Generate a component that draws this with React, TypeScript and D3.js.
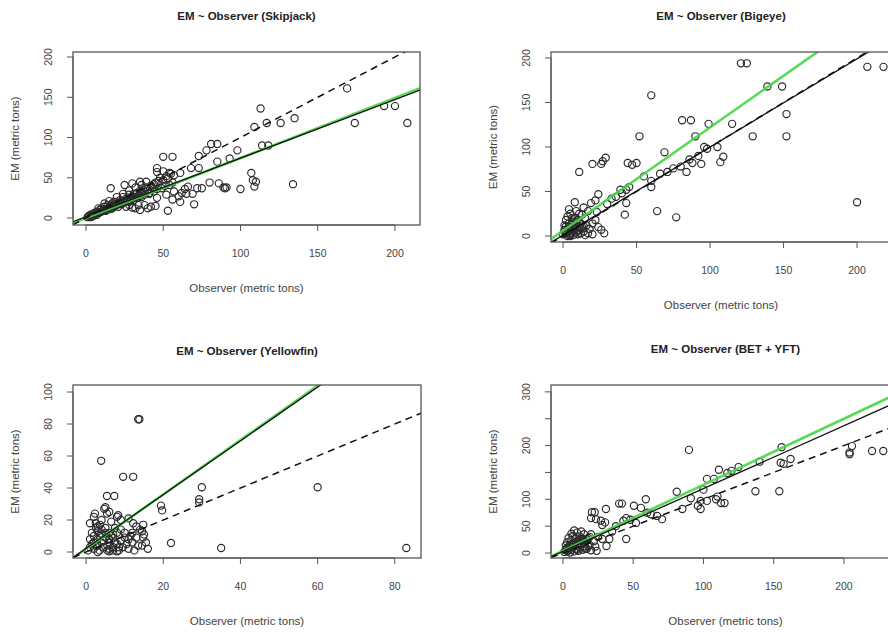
import React from "react";
import * as d3 from "d3";

// Skipjack
const skjObs = [169, 113, 135, 193, 200, 174, 208, 109, 117, 126, 114, 118, 81, 85, 98, 78, 73, 85, 93, 50, 56, 68, 73, 46, 107, 108, 110, 109, 100, 91, 86, 80, 134, 72, 75, 65, 69, 70, 61, 56, 52, 53, 46, 44, 16, 25, 30, 35, 39, 54, 50, 46, 61, 40, 35, 30, 26, 22, 18, 89, 90, 60, 57, 62, 64, 66, 42, 38, 34, 28, 45, 32,
  1, 2, 3, 3, 4, 5, 5, 6, 7, 7, 8, 9, 9, 10, 10, 11, 12, 12, 13, 14, 14, 15, 16, 16, 17, 18, 19, 19, 20, 21, 21, 22, 23, 24, 24, 25, 26, 27, 28, 28, 29, 30, 31, 32, 33, 34, 35, 36, 37, 38, 39, 40, 42, 43, 44, 45, 47, 48, 50, 52, 53, 55, 57, 20, 24, 28, 32, 36, 12, 8, 15, 31, 36, 41,
  2, 4, 6, 8, 11, 13, 15, 17, 18, 20, 22, 23, 25, 27, 29, 30, 33, 35, 38, 41, 44, 46, 49, 51, 54, 56];
const skjEm = [161, 136, 124, 139, 139, 118, 118, 113, 118, 118, 90, 90, 92, 92, 84, 84, 77, 70, 74, 76, 76, 62, 62, 62, 56, 47, 45, 39, 36, 38, 43, 44, 42, 37, 37, 30, 30, 17, 20, 23, 29, 9, 25, 36, 37, 41, 43, 45, 45, 56, 58, 57, 56, 12, 10, 13, 14, 19, 20, 38, 37, 27, 33, 31, 36, 39, 14, 16, 16, 16, 15, 12,
  1, 3, 1, 4, 2, 6, 3, 5, 8, 4, 6, 10, 7, 8, 12, 9, 11, 14, 10, 12, 16, 13, 15, 11, 18, 14, 16, 20, 17, 19, 14, 22, 18, 21, 26, 20, 24, 22, 29, 20, 25, 27, 30, 26, 31, 28, 34, 30, 35, 32, 38, 34, 40, 38, 42, 44, 46, 50, 47, 52, 49, 55, 53, 26, 30, 34, 38, 41, 18, 12, 21, 22, 26, 30,
  2, 2, 5, 7, 9, 9, 13, 12, 15, 16, 18, 17, 20, 21, 22, 24, 25, 27, 29, 31, 33, 36, 37, 40, 41, 44];

// Bigeye
const betObs = [121, 125, 207, 218, 139, 149, 60, 152, 81, 87, 99, 115, 52, 90, 129, 152, 96, 105, 109, 107, 69, 29, 27, 20, 26, 44, 50, 86, 88, 94, 84, 71, 11, 60, 60, 200, 64, 42, 77, 39, 43, 45, 43, 8, 24, 19, 23, 28, 26, 36, 55, 47, 66, 75, 80, 92, 98, 40, 33, 30, 22, 14,
  0, 1, 1, 2, 2, 3, 3, 4, 4, 5, 5, 6, 6, 7, 7, 8, 8, 9, 9, 10, 10, 11, 11, 12, 12, 13, 14, 15, 15, 16, 17, 18, 20, 20, 22, 24, 3, 5, 2, 6, 9, 13, 17, 4,
  1, 3, 4, 6, 7, 8, 10, 11, 12, 14, 5, 9];
const betEm = [194, 194, 190, 190, 168, 168, 158, 137, 130, 130, 126, 126, 112, 112, 112, 112, 100, 100, 89, 83, 94, 88, 84, 81, 81, 82, 82, 86, 82, 81, 72, 72, 72, 62, 55, 38, 28, 24, 21, 52, 52, 55, 37, 38, 47, 37, 27, 3, 7, 44, 67, 80, 70, 76, 78, 90, 98, 48, 42, 36, 40, 32,
  2, 5, 12, 3, 18, 8, 22, 1, 14, 6, 25, 3, 10, 16, 1, 8, 20, 4, 12, 2, 18, 7, 25, 14, 3, 10, 5, 20, 1, 12, 3, 8, 14, 2, 18, 10, 0, 0, 11, 20, 28, 24, 28, 30,
  7, 4, 10, 14, 9, 12, 6, 15, 9, 11, 2, 16];

// Yellowfin
const yftObs = [13.5, 13.8, 3.9, 9.6, 12.2, 30, 60, 5.4, 7.3, 19.4, 19.7, 29.3, 29.3, 2.3, 4.7, 5.4, 8, 8.3, 12.2, 14.8, 22, 35, 83, 14.5, 14.8, 14.5, 10, 11, 6, 3.6, 2.6, 8,
  0.5, 1, 1, 1.5, 2, 2, 2, 2.5, 3, 3, 3, 3.5, 4, 4, 4, 4.5, 5, 5, 5.5, 6, 6, 6.5, 7, 7, 7.5, 8, 8.5, 9, 9, 9.5, 10, 10.5, 11, 11.5, 12, 12.5, 13, 13.5, 14, 15, 15.5, 16, 1, 2, 5, 6, 9, 11, 12, 13, 7, 8, 3, 6,
  1.5, 2.5, 3.5, 4.5, 5.5, 6.5, 7.5, 8.5, 3, 4, 5, 6, 7];
const yftEm = [83, 83, 57, 47, 47, 40.5, 40.5, 35, 35, 29, 26, 33, 31, 24, 27, 24, 22, 23, 18, 17, 5.6, 2.5, 2.5, 13, 9, 4, 9, 8, 2, 17, 15, 12,
  1, 3, 8, 12, 2, 6, 10, 18, 4, 8, 13, 1, 6, 11, 20, 3, 9, 15, 1, 6, 12, 19, 3, 9, 15, 5, 1, 7, 14, 3, 12, 5, 2, 10, 6, 1, 9, 4, 14, 11, 6, 2, 18, 22, 28, 25, 20, 21, 12, 16, 1, 0.5, 0, 0.5,
  5, 4, 10, 7, 4, 10, 6, 3, 16, 14, 12, 8, 11];

// BET + YFT
const allObs = [89.7, 155.6, 205.7, 204, 204, 220, 228, 155, 157, 162, 111, 120, 117, 102.5, 107.5, 137, 154, 81, 91, 98, 102.5, 109, 112.5, 115, 98, 85, 67, 70.5, 62.6, 59, 50.5, 55.5, 40, 42, 30.6, 20.6, 22.6, 20, 23.5, 27, 30, 28, 37.7, 43, 45, 45, 31, 33, 28, 140, 96, 110, 125, 60, 48, 35, 52, 100,
  1, 2, 2, 3, 3, 4, 4, 5, 5, 6, 6, 7, 7, 8, 8, 9, 9, 10, 10, 11, 11, 12, 12, 13, 14, 14, 15, 15, 16, 17, 18, 19, 20, 20, 22, 23, 25, 24, 13, 8, 6,
  3, 5, 7, 9, 11, 13, 15, 17, 19, 4, 10, 16, 12, 18];
const allEm = [192, 197, 199, 187, 184, 190, 190, 168, 166, 175, 155, 153, 149, 138, 138, 115, 115, 114, 102, 97, 97, 100, 93, 93, 82, 82, 69, 63, 72, 100, 88, 84, 92, 92, 82, 76, 76, 65, 63, 60, 57, 52, 50, 60, 65, 26, 13, 26, 26, 170, 88, 105, 160, 75, 62, 40, 56, 118,
  2, 6, 14, 3, 20, 9, 28, 1, 15, 6, 24, 11, 32, 3, 18, 8, 27, 14, 38, 4, 22, 10, 31, 17, 6, 26, 12, 35, 20, 8, 28, 15, 5, 35, 22, 12, 30, 4, 40, 42, 36,
  10, 12, 16, 20, 18, 22, 24, 26, 30, 5, 6, 8, 24, 12];

// fitted lines: [intercept, slope]
const skjGreen = [0, 0.745];
const skjBlack = [1.5, 0.728];
const betGreen = [6, 1.16];
const betBlack = [1, 0.99];
const yftGreen = [2, 1.7];
const yftBlack = [2.3, 1.68];
const allGreen = [4, 1.23];
const allBlack = [3, 1.17];

const panels = [
  {
    id: "skj", title: "EM ~ Observer (Skipjack)", obs: skjObs, em: skjEm, green: skjGreen, black: skjBlack,
    box: [73, 52, 420, 225], xDom: [-8.4, 216.2], yDom: [-8.7, 206.2],
    xTicks: [0, 50, 100, 150, 200], yTicks: [0, 50, 100, 150, 200], yLabels: [0, 50, 100, 150, 200], titleY: 20,
  },
  {
    id: "bet", title: "EM ~ Observer (Bigeye)", obs: betObs, em: betEm, green: betGreen, black: betBlack,
    box: [551, 52, 891, 242], xDom: [-8.2, 223.1], yDom: [-6.7, 206.7],
    xTicks: [0, 50, 100, 150, 200], yTicks: [0, 50, 100, 150, 200], yLabels: [0, 50, 100, 150, 200], titleY: 20,
  },
  {
    id: "yft", title: "EM ~ Observer (Yellowfin)", obs: yftObs, em: yftEm, green: yftGreen, black: yftBlack,
    box: [73, 385, 421, 558], xDom: [-3.4, 86.8], yDom: [-3.75, 104.4],
    xTicks: [0, 20, 40, 60, 80], yTicks: [0, 20, 40, 60, 80, 100], yLabels: [0, 20, 40, 60, 80, 100], titleY: 355,
  },
  {
    id: "all", title: "EM ~ Observer (BET + YFT)", obs: allObs, em: allEm, green: allGreen, black: allBlack,
    box: [551, 385, 900, 558], xDom: [-8.5, 239.9], yDom: [-9.3, 312.8],
    xTicks: [0, 50, 100, 150, 200], yTicks: [0, 50, 100, 150, 200, 250, 300], yLabels: [0, 50, 100, 200, 300], titleY: 353,
  },
];

const font = "'Liberation Sans', Arial, sans-serif";
const textCol = "#444";

function Panel({ p }: { p: any }) {
  const [l, t, r, b] = p.box;
  const x = d3.scaleLinear().domain(p.xDom).range([l, r]);
  const y = d3.scaleLinear().domain(p.yDom).range([b, t]);
  const abline = (coef: number[]) => {
    const [x0, x1] = p.xDom;
    return d3.line()([[x(x0), y(coef[0] + coef[1] * x0)], [x(x1), y(coef[0] + coef[1] * x1)]]);
  };
  const oneToOne = d3.line()([[x(p.xDom[0]), y(p.xDom[0])], [x(p.xDom[1]), y(p.xDom[1])]]);
  const xt = p.xTicks;
  const yt = p.yTicks;
  return (
    <g>
      <defs>
        <clipPath id={"clip-" + p.id}>
          <rect x={l} y={t} width={r - l} height={b - t} />
        </clipPath>
      </defs>
      <text x={(l + r) / 2} y={p.titleY} textAnchor="middle" fontFamily={font} fontSize={11.5} fontWeight="bold" fill="#222">
        {p.title}
      </text>
      <g clipPath={`url(#clip-${p.id})`}>
        {p.obs.map((v: number, i: number) => (
          <circle key={i} cx={x(v)} cy={y(p.em[i])} r={3.6} fill="none" stroke="#2a2a2a" strokeWidth={1.15} />
        ))}
        <path d={abline(p.green) || ""} stroke="#46d646" strokeWidth={2.6} fill="none" opacity={0.9} />
        <path d={abline(p.black) || ""} stroke="#111" strokeWidth={1.3} fill="none" />
        <path d={oneToOne || ""} stroke="#111" strokeWidth={1.5} strokeDasharray="7,5" fill="none" />
      </g>
      <rect x={l} y={t} width={r - l} height={b - t} fill="none" stroke="#555" strokeWidth={1.3} />
      {/* x axis */}
      <line x1={x(xt[0])} x2={x(xt[xt.length - 1])} y1={b} y2={b} stroke="#555" />
      {xt.map((v: number) => (
        <g key={"x" + v}>
          <line x1={x(v)} x2={x(v)} y1={b} y2={b + 6} stroke="#555" />
          <text x={x(v)} y={b + 28} textAnchor="middle" dominantBaseline="central" fontFamily={font} fontSize={10.5} fill={textCol}>
            {v}
          </text>
        </g>
      ))}
      {/* y axis */}
      <line x1={l} x2={l} y1={y(yt[0])} y2={y(yt[yt.length - 1])} stroke="#555" />
      {yt.map((v: number) => (
        <g key={"y" + v}>
          <line x1={l} x2={l - 6} y1={y(v)} y2={y(v)} stroke="#555" />
          {p.yLabels.includes(v) && (
            <text
              transform={`translate(${l - 25},${y(v)}) rotate(-90)`}
              textAnchor="middle"
              dominantBaseline="central"
              fontFamily={font}
              fontSize={10.5}
              fill={textCol}
            >
              {v}
            </text>
          )}
        </g>
      ))}
      <text x={(l + r) / 2} y={b + 63} textAnchor="middle" dominantBaseline="central" fontFamily={font} fontSize={11.5} fill={textCol}>
        Observer (metric tons)
      </text>
      <text
        transform={`translate(${l - 58},${(t + b) / 2}) rotate(-90)`}
        textAnchor="middle"
        dominantBaseline="central"
        fontFamily={font}
        fontSize={11.5}
        fill={textCol}
      >
        EM (metric tons)
      </text>
    </g>
  );
}

export default function App() {
  return (
    <svg width={888} height={632} style={{ position: "absolute", left: 0, top: 0, background: "#fff" }}>
      <rect width={888} height={632} fill="#fff" />
      {panels.map((p) => (
        <Panel key={p.id} p={p} />
      ))}
    </svg>
  );
}
